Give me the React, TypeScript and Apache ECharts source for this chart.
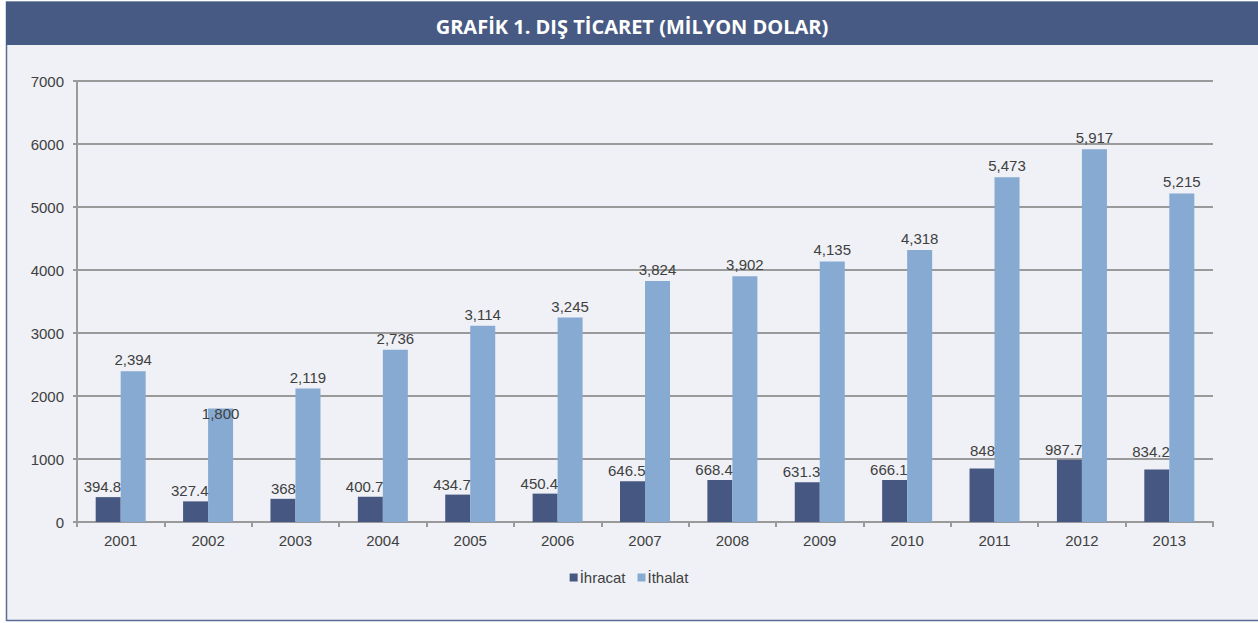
import React, { useEffect, useRef } from "react";
import * as echarts from "echarts";

const TITLE = "GRAFİK 1. DIŞ TİCARET (MİLYON DOLAR)";
const years = ["2001", "2002", "2003", "2004", "2005", "2006", "2007", "2008", "2009", "2010", "2011", "2012", "2013"];
const ihracat = [394.8, 327.4, 368, 400.7, 434.7, 450.4, 646.5, 668.4, 631.3, 666.1, 848, 987.7, 834.2];
const ithalat = [2394, 1800, 2119, 2736, 3114, 3245, 3824, 3902, 4135, 4318, 5473, 5917, 5215];
const yTicks = { min: 0, max: 7000, interval: 1000 };

// vertical label nudges (pixels) that mimic the reference's label placement
const ihracatNudge: Record<number, number> = { 10: -8, 12: -7 };
const ithalatNudge: Record<number, number> = { 1: 16 };

const FONT = "Liberation Sans";
const TXT = "#404040";
const DARK = "#465782";
const LIGHT = "#86aad2";
const GRID = "#9a9a9a";

export default function App() {
  const ref = useRef<HTMLDivElement>(null);
  useEffect(() => {
    if (!ref.current) return;
    const chart = echarts.init(ref.current, null, { renderer: "svg" });
    const darkData = ihracat.map((v, i) =>
      ihracatNudge[i] !== undefined ? { value: v, label: { offset: [13, ihracatNudge[i]] } } : v
    );
    const lightData = ithalat.map((v, i) =>
      ithalatNudge[i] !== undefined ? { value: v, label: { offset: [0, ithalatNudge[i]] } } : v
    );
    chart.setOption({
      animation: false,
      backgroundColor: "#ffffff",
      textStyle: { fontFamily: FONT },
      graphic: [
        {
          type: "rect",
          z: -10,
          silent: true,
          shape: { x: 6.5, y: 2, width: 1260, height: 618.5 },
          style: { fill: "#eff1f6", stroke: "#5b6d96", lineWidth: 1.5 },
        },
        {
          type: "rect",
          z: -9,
          silent: true,
          shape: { x: 6, y: 2, width: 1260, height: 43 },
          style: { fill: "#475a84" },
        },
      ],
      title: {
        text: TITLE,
        left: 627,
        textAlign: "center",
        top: 11,
        textStyle: {
          color: "#ffffff",
          fontSize: 20,
          fontWeight: "bold",
          fontFamily: "Open Sans",
        },
      },
      legend: {
        data: ["İhracat", "İthalat"],
        left: "center",
        top: 565,
        icon: "rect",
        itemWidth: 8,
        itemHeight: 8,
        itemGap: 12,
        textStyle: { fontSize: 15, color: TXT, fontFamily: FONT, padding: [0, 0, 0, -3] },
      },
      grid: { left: 77, right: 45, top: 81, bottom: 101, containLabel: false },
      xAxis: {
        type: "category",
        data: years,
        axisLine: { lineStyle: { color: GRID, width: 2 } },
        axisTick: { show: true, length: 5, lineStyle: { color: GRID, width: 2 } },
        axisLabel: { fontSize: 15, color: TXT, margin: 11, fontFamily: FONT },
      },
      yAxis: {
        type: "value",
        min: yTicks.min,
        max: yTicks.max,
        interval: yTicks.interval,
        axisLine: { show: true, lineStyle: { color: GRID, width: 2 } },
        axisTick: { show: true, length: 4, lineStyle: { color: GRID, width: 2 } },
        axisLabel: {
          fontSize: 15,
          color: TXT,
          margin: 13,
          fontFamily: FONT,
          formatter: (v: number) => String(v),
        },
        splitLine: { lineStyle: { color: GRID, width: 2 } },
      },
      series: [
        {
          name: "İhracat",
          type: "bar",
          data: darkData,
          barWidth: 25,
          barGap: "0%",
          itemStyle: { color: DARK },
          label: {
            show: true,
            position: "top",
            align: "right",
            offset: [13, 0],
            distance: 3,
            fontSize: 15,
            color: TXT,
            fontFamily: FONT,
            formatter: (p: any) => String(p.value),
          },
        },
        {
          name: "İthalat",
          type: "bar",
          data: lightData,
          barWidth: 25,
          barGap: "0%",
          itemStyle: { color: LIGHT },
          label: {
            show: true,
            position: "top",
            distance: 4,
            fontSize: 15,
            color: TXT,
            fontFamily: FONT,
            formatter: (p: any) => Number(p.value).toLocaleString("en-US"),
          },
        },
      ],
    });
    return () => chart.dispose();
  }, []);
  return (
    <div
      ref={ref}
      style={{ position: "fixed", left: 0, top: 0, width: 1258, height: 623 }}
    />
  );
}
